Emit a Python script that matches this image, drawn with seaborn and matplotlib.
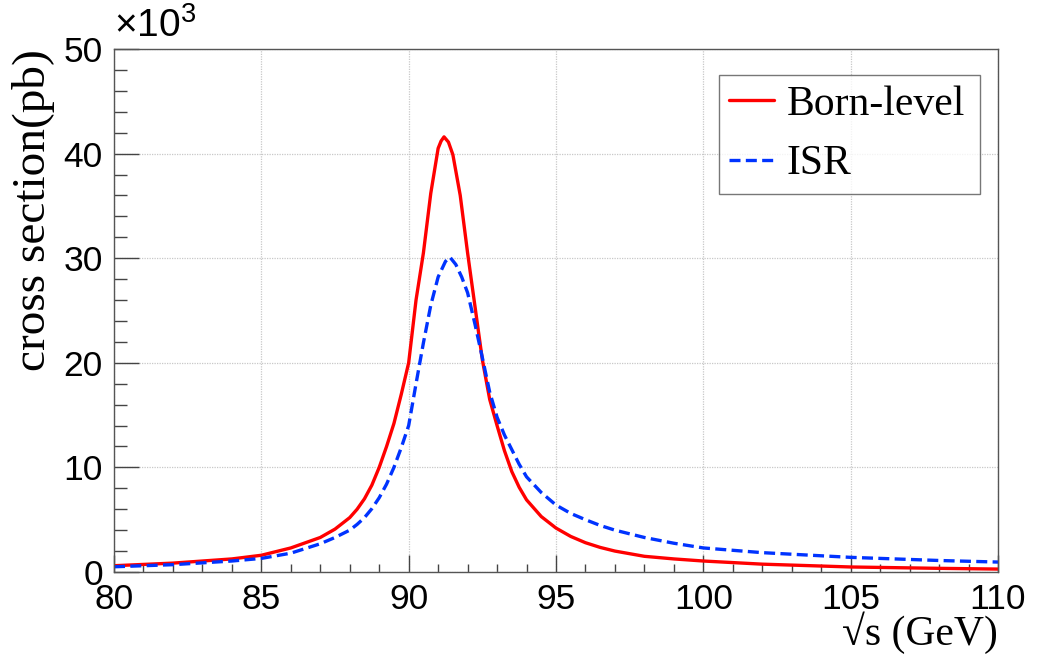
import matplotlib
matplotlib.use('Agg')
import matplotlib.pyplot as plt
from matplotlib.ticker import MultipleLocator
import seaborn as sns

# sqrt(s) in GeV, cross section in 10^3 pb
born_x = [80, 82, 84, 85, 86, 87, 87.5, 88, 88.25, 88.5, 88.75, 89, 89.25, 89.5, 89.75, 90,
          90.25, 90.5, 90.75, 91, 91.1, 91.2, 91.35, 91.5, 91.75, 92, 92.25, 92.5, 92.75,
          93, 93.25, 93.5, 93.75, 94, 94.5, 95, 95.5, 96, 96.5, 97, 98, 99, 100, 102,
          105, 108, 110]
born_y = [0.6, 0.85, 1.25, 1.6, 2.3, 3.3, 4.1, 5.2, 6.0, 7.0, 8.3, 10.0, 12.0, 14.2, 17.0, 20.0,
          26.0, 30.5, 36.2, 40.5, 41.2, 41.6, 41.1, 39.9, 36.0, 30.5, 25.4, 20.3, 16.5,
          14.0, 11.6, 9.6, 8.1, 6.9, 5.3, 4.2, 3.4, 2.8, 2.35, 2.0, 1.5, 1.25, 1.05, 0.75,
          0.48, 0.35, 0.28]

isr_x = [80, 82, 84, 85, 86, 87, 87.5, 88, 88.25, 88.5, 88.75, 89, 89.25, 89.5, 89.75, 90,
         90.25, 90.5, 90.75, 91, 91.25, 91.4, 91.6, 91.8, 92, 92.25, 92.5, 92.75, 93,
         93.25, 93.5, 93.75, 94, 94.5, 95, 95.5, 96, 96.5, 97, 98, 99, 100, 102, 105,
         108, 110]
isr_y = [0.5, 0.7, 1.05, 1.3, 1.8, 2.7, 3.3, 4.0, 4.55, 5.2, 6.05, 7.1, 8.4, 10.0, 11.9, 14.0,
         18.0, 21.9, 25.5, 28.2, 29.7, 30.1, 29.4, 28.2, 26.7, 23.7, 20.5, 17.2, 14.8,
         13.1, 11.7, 10.3, 9.1, 7.6, 6.4, 5.6, 5.0, 4.45, 4.0, 3.3, 2.75, 2.3, 1.85, 1.4,
         1.1, 0.95]

sns.set_style('white')
plt.rcParams['font.family'] = ['Liberation Sans', 'DejaVu Sans']
plt.rcParams['mathtext.fontset'] = 'custom'
plt.rcParams['mathtext.rm'] = 'Liberation Sans'
plt.rcParams['mathtext.it'] = 'Liberation Sans'
plt.rcParams['text.color'] = 'black'
plt.rcParams['axes.labelcolor'] = 'black'
plt.rcParams['xtick.color'] = 'black'
plt.rcParams['ytick.color'] = 'black'

fig = plt.figure(figsize=(10.4, 6.58), dpi=100)
ax = fig.add_axes([114/1040, 1-572/658, (998-114)/1040, (572-49)/658])

sns.lineplot(x=born_x, y=born_y, ax=ax, color='#ff0000', lw=2.4, label='Born-level')
sns.lineplot(x=isr_x, y=isr_y, ax=ax, color='#0033ff', lw=2.4,
             linestyle=(0, (3.3, 1.6)), label='ISR')

ax.set_xlim(80, 110)
ax.set_ylim(0, 50)
ax.xaxis.set_major_locator(MultipleLocator(5))
ax.xaxis.set_minor_locator(MultipleLocator(1))
ax.yaxis.set_major_locator(MultipleLocator(10))
ax.yaxis.set_minor_locator(MultipleLocator(2))

ax.grid(True, which='major', color='#c8c8c8', linestyle=(0, (1, 1)), lw=0.9)
ax.tick_params(axis='both', which='both', direction='in', color='#444444',
               labelcolor='black', bottom=True, left=True, top=False, right=False,
               labelsize=25.5, pad=8)
ax.tick_params(axis='x', which='major', length=12, width=1)
ax.tick_params(axis='x', which='minor', length=6, width=1)
ax.tick_params(axis='y', which='major', length=18, width=1)
ax.tick_params(axis='y', which='minor', length=9, width=1)
for sp in ax.spines.values():
    sp.set_color('#555555')
    sp.set_linewidth(1)

serif = ['Liberation Serif', 'DejaVu Serif']
ax.set_ylabel('cross section(pb)', fontsize=34, family=serif, loc='top', labelpad=6)
ax.set_xlabel('\u221as (GeV)', fontsize=30, family=serif, loc='right', labelpad=-3)

ax.text(0.0, 1.008, '\u00d710$^{3}$', transform=ax.transAxes, fontsize=28,
        ha='left', va='bottom')

leg = ax.legend(bbox_to_anchor=(0.684, 0.723, 0.296, 0.227), loc='upper left',
                mode='expand', borderaxespad=0, prop={'family': serif, 'size': 30},
                frameon=True, fancybox=False, handlelength=1.08, handletextpad=0.3,
                borderpad=0.25, labelspacing=0.5)
leg.get_frame().set_edgecolor('#555555')
leg.get_frame().set_linewidth(1)
for t in leg.get_texts():
    t.set_color('black')

fig.savefig('out.png', dpi=100)
